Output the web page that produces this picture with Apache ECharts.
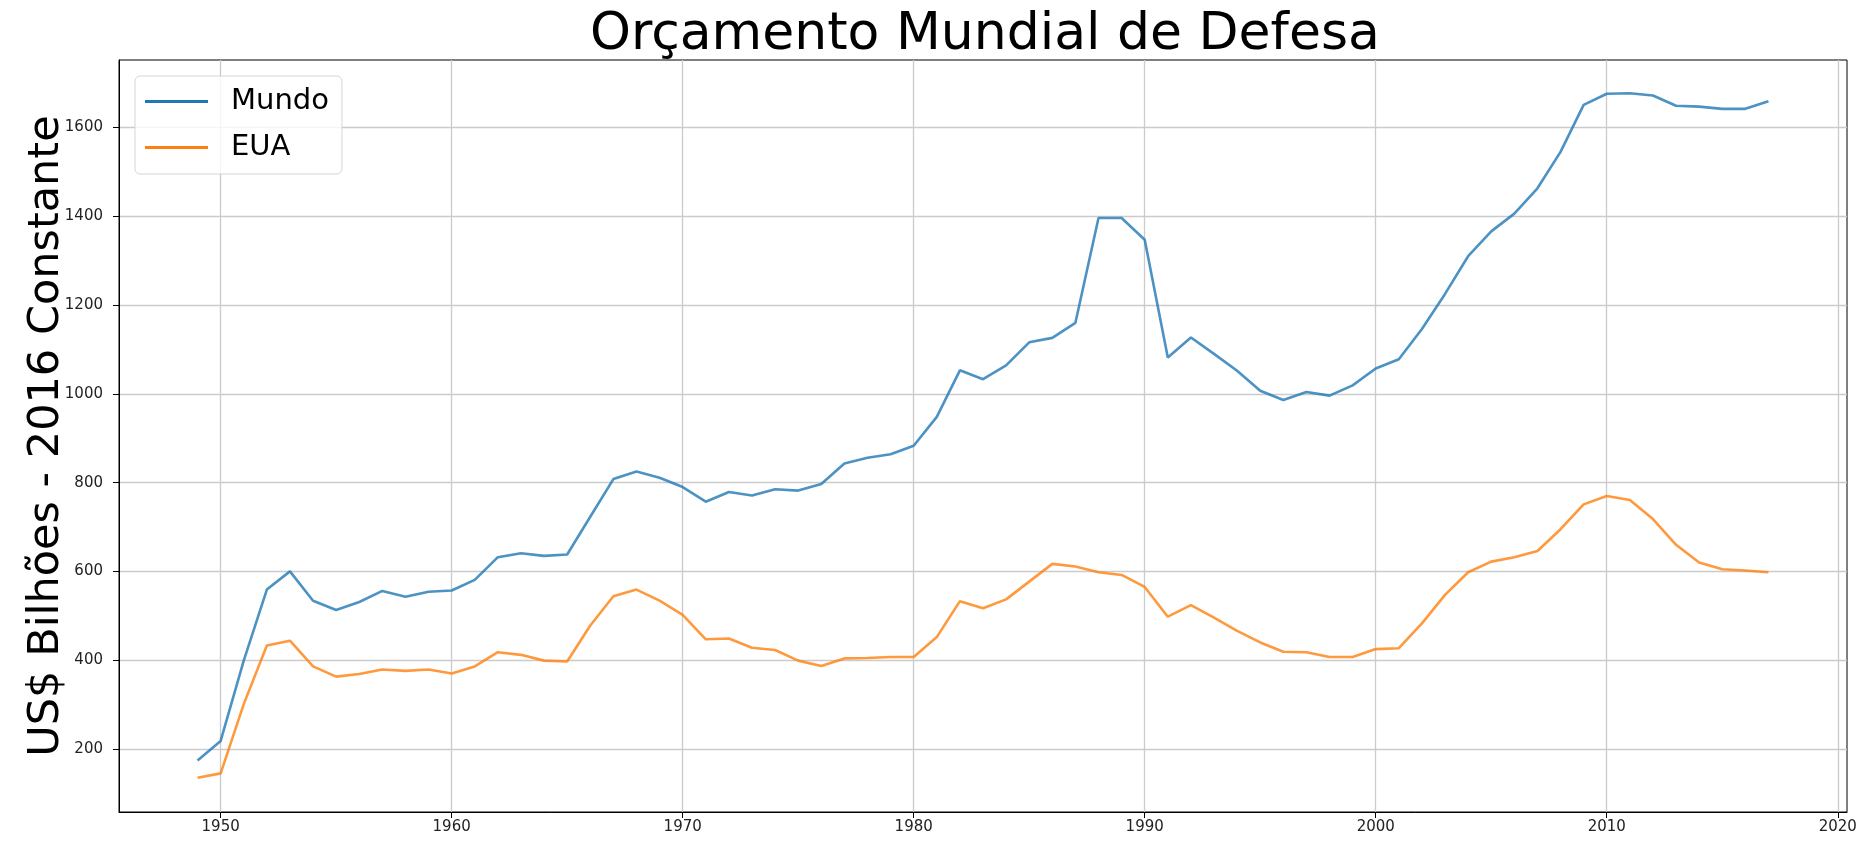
<!DOCTYPE html>
<html>
<head>
<meta charset="utf-8">
<title>Orçamento Mundial de Defesa</title>
<script src="https://cdn.jsdelivr.net/npm/echarts@6/dist/echarts.min.js"></script>
<style>
html,body{margin:0;padding:0;background:#fff;}
#main{width:1866px;height:842px;}
</style>
</head>
<body>
<div id="main"></div>
<script>
// anos e valores (US$ bilhões, 2016 constante)
var anos = [
    1949,
    1950, 1951, 1952, 1953, 1954, 1955, 1956, 1957, 1958, 1959,
    1960, 1961, 1962, 1963, 1964, 1965, 1966, 1967, 1968, 1969,
    1970, 1971, 1972, 1973, 1974, 1975, 1976, 1977, 1978, 1979,
    1980, 1981, 1982, 1983, 1984, 1985, 1986, 1987, 1988, 1989,
    1990, 1991, 1992, 1993, 1994, 1995, 1996, 1997, 1998, 1999,
    2000, 2001, 2002, 2003, 2004, 2005, 2006, 2007, 2008, 2009,
    2010, 2011, 2012, 2013, 2014, 2015, 2016, 2017
];
var mundo = [
    174,
    218, 399, 559, 600, 534, 513, 531, 556, 543, 554,
    557, 581, 632, 641, 635, 638, 723, 808, 825, 811,
    790, 757, 779, 771, 785, 782, 797, 843, 856, 864,
    883, 948, 1053, 1033, 1064, 1116, 1126, 1160, 1396, 1396,
    1347, 1082, 1127, 1090, 1052, 1007, 986, 1004, 996, 1019,
    1057, 1078, 1146, 1225, 1310, 1366, 1406, 1463, 1545, 1651,
    1676, 1677, 1672, 1649, 1647, 1642, 1642, 1659
];
var eua = [
    135,
    145, 301, 433, 444, 386, 363, 369, 379, 376, 379,
    370, 386, 418, 412, 399, 397, 478, 544, 559, 534,
    502, 447, 449, 428, 423, 399, 387, 404, 405, 407,
    407, 452, 533, 517, 537, 577, 617, 611, 598, 592,
    565, 498, 524, 496, 466, 440, 419, 418, 407, 407,
    425, 427, 483, 547, 598, 622, 632, 646, 695, 751,
    770, 761, 718, 660, 620, 605, 602, 598
];
// marcas dos eixos
var ticksX = [1950, 1960, 1970, 1980, 1990, 2000, 2010, 2020];
var ticksY = [200, 400, 600, 800, 1000, 1200, 1400, 1600];

function pares(valores) {
    var out = [];
    for (var i = 0; i < anos.length; i++) {
        out.push([anos[i], valores[i]]);
    }
    return out;
}

var fonte = 'DejaVu Sans';
var myChart = echarts.init(document.getElementById('main'));

option = {
    animation: false,
    backgroundColor: '#fff',
    textStyle: {fontFamily: fonte},
    title: {
        text: 'Orçamento Mundial de Defesa',
        left: 590,
        top: 9,
        padding: 0,
        textStyle: {fontFamily: fonte, fontSize: 52, fontWeight: 'normal', color: '#000'}
    },
    legend: {
        orient: 'vertical',
        left: 135,
        top: 76,
        icon: 'rect',
        itemWidth: 63,
        itemHeight: 3,
        itemGap: 17,
        padding: [11, 13, 12, 10],
        backgroundColor: 'rgba(255,255,255,0.8)',
        borderColor: 'rgba(204,204,204,0.8)',
        borderWidth: 1,
        borderRadius: 5,
        formatter: function (name) { return '{t|' + name + '}'; },
        textStyle: {
            fontFamily: fonte, fontSize: 29, color: '#000',
            rich: {t: {fontFamily: fonte, fontSize: 29, color: '#000', padding: [0, 0, 0, 18]}}
        },
        data: ['Mundo', 'EUA']
    },
    grid: {
        left: 119,
        right: 19,
        top: 60,
        bottom: 30,
        containLabel: false,
        outerBoundsMode: 'none',
        show: true,
        borderColor: '#000',
        borderWidth: 1
    },
    xAxis: {
        type: 'value',
        min: 1945.6,
        max: 2020.4,
        splitNumber: 7,
        axisLine: {show: true, lineStyle: {color: '#000', width: 1}},
        axisTick: {show: true, length: 6, customValues: ticksX, lineStyle: {color: '#000'}},
        axisLabel: {
            fontFamily: fonte,
            fontSize: 15,
            color: '#222',
            margin: 8,
            customValues: ticksX,
            formatter: function (v) { return v % 10 === 0 ? String(v) : ''; }
        },
        splitLine: {show: true, lineStyle: {color: '#cbcbcb', width: 1.3}}
    },
    yAxis: {
        type: 'value',
        min: 58,
        max: 1752,
        splitNumber: 8,
        name: 'US$ Bilhões - 2016 Constante',
        nameLocation: 'middle',
        nameRotate: 90,
        nameGap: 51,
        nameMoveOverlap: false,
        nameTextStyle: {fontFamily: fonte, fontSize: 43, color: '#000'},
        axisLine: {show: true, lineStyle: {color: '#000', width: 1}},
        axisTick: {show: true, length: 6, customValues: ticksY, lineStyle: {color: '#000'}},
        axisLabel: {
            fontFamily: fonte,
            fontSize: 15,
            color: '#222',
            margin: 16,
            customValues: ticksY,
            formatter: function (v) { return v % 200 === 0 ? String(v) : ''; }
        },
        splitLine: {show: true, lineStyle: {color: '#cbcbcb', width: 1.3}}
    },
    series: [
        {
            name: 'Mundo',
            type: 'line',
            data: pares(mundo),
            showSymbol: false,
            color: '#1f77b4',
            lineStyle: {width: 2.6, opacity: 0.8}
        },
        {
            name: 'EUA',
            type: 'line',
            data: pares(eua),
            showSymbol: false,
            color: '#ff7f0e',
            lineStyle: {width: 2.6, opacity: 0.8}
        }
    ]
};
myChart.setOption(option, true);
</script>
</body>
</html>
